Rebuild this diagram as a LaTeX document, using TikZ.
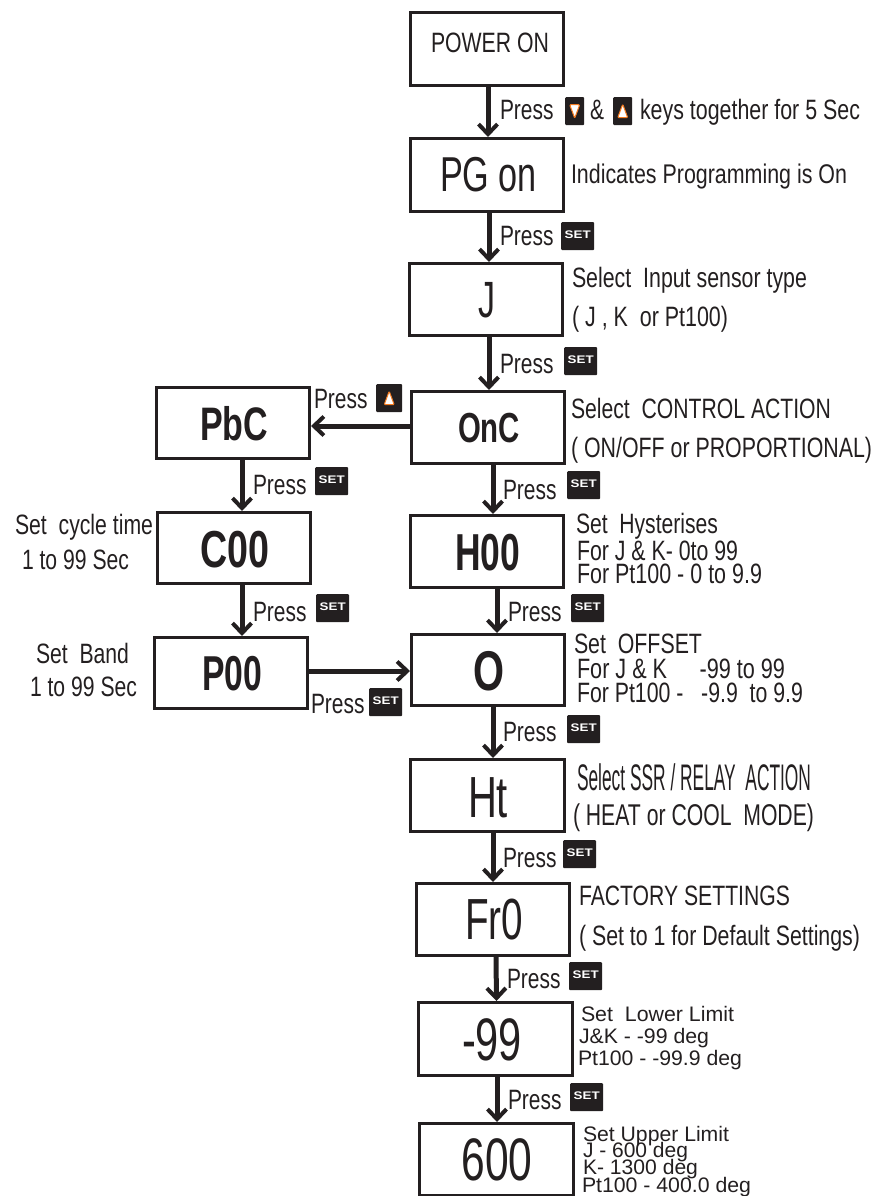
\documentclass[tikz,border=0pt]{standalone}
\usepackage{fontspec}
\usepackage{graphicx}
\setmainfont{Liberation Sans}
\usetikzlibrary{arrows.meta}
\definecolor{ink}{HTML}{231F20}
\definecolor{keyorange}{HTML}{F47B20}
\newcommand\W[3]{\resizebox{#2pt}{\height}{\fontsize{#1pt}{#1pt}\selectfont #3}}
\newcommand\B[3]{\resizebox{#2pt}{\height}{\fontsize{#1pt}{#1pt}\selectfont\bfseries #3}}
\tikzset{
  x=1pt,y=-1pt,
  boxnode/.style={draw=ink,line width=3pt,inner sep=0pt,text=ink,fill=white},
  txt/.style={anchor=base west,inner sep=0pt,outer sep=0pt,text=ink},
  conn/.style={draw=ink,line width=5pt,-{Straight Barb[length=10pt,width=19pt,line width=4pt]}},
  keynode/.style={anchor=north west,fill=ink,rounded corners=1pt,inner sep=0pt,minimum height=28pt,text=white},
  setkey/.style={keynode,minimum width=33pt},
  upkey/.style={keynode,path picture={
    \draw[fill=white,draw=keyorange,line width=1pt,line join=round]
      ([shift={(-5pt,-6.5pt)}]path picture bounding box.center) --
      ([shift={(5pt,-6.5pt)}]path picture bounding box.center) --
      ([shift={(0pt,7pt)}]path picture bounding box.center) -- cycle;}},
  downkey/.style={keynode,path picture={
    \draw[fill=white,draw=keyorange,line width=1pt,line join=round]
      ([shift={(-5pt,6.5pt)}]path picture bounding box.center) --
      ([shift={(5pt,6.5pt)}]path picture bounding box.center) --
      ([shift={(0pt,-7pt)}]path picture bounding box.center) -- cycle;}},
}
% name, left, top, right, bottom, text centre x, baseline y, text
\newcommand\bx[8]{%
  \pgfmathsetmacro\bxw{#4-#2-3}\pgfmathsetmacro\bxh{#5-#3-3}%
  \pgfmathsetmacro\bxcx{(#2+#4)/2}\pgfmathsetmacro\bxcy{(#3+#5)/2}%
  \pgfmathsetmacro\bxdx{#6-\bxcx}\pgfmathsetmacro\bxdy{\bxcy-#7}%
  \node[boxnode,minimum width=\bxw pt,minimum height=\bxh pt] (#1) at (\bxcx,\bxcy)
    {\raisebox{\bxdy pt}[0pt][0pt]{\makebox[0pt][c]{\hspace{2\dimexpr\bxdx pt\relax}#8}}};}
\newcommand\lab[4]{\node[txt] (#1) at (#2,#3) {#4};}
\newcommand\press[3]{\node[txt] (#1) at (#2,#3) {\W{28}{53.5}{Press}};}
\newcommand\setk[3]{\node[setkey] (#1) at (#2,#3) {\raisebox{2.5pt}{\resizebox{26pt}{\height}{\fontsize{11pt}{11pt}\selectfont\bfseries SET}}};}
\begin{document}
\begin{tikzpicture}
\useasboundingbox (0,0) rectangle (874,1196);
% boxes
\bx{power}{409}{11}{565}{87}{490}{53}{\W{28}{118}{POWER ON}}
\bx{pg}{409}{137}{565}{213}{488.5}{192}{\W{49}{97}{PG on}}
\bx{j}{408}{262}{564}{337}{487}{317}{\W{51}{17}{J}}
\bx{onc}{410}{390}{566}{465}{489}{442}{\B{42}{62}{OnC}}
\bx{pbc}{155}{386}{311}{460}{234}{440}{\B{47}{68}{PbC}}
\bx{coo}{156}{511}{312}{585}{234.5}{567}{\B{52}{69}{C00}}
\bx{hoo}{409}{514}{565}{589}{487.5}{570}{\B{52}{65}{H00}}
\bx{poo}{153}{636}{309}{710}{232}{690}{\B{49}{60}{P00}}
\bx{o}{410}{633}{566}{707}{488.5}{690}{\B{56}{31}{O}}
\bx{ht}{409}{758}{566}{833}{488}{817}{\W{58}{40}{Ht}}
\bx{fr}{415}{882}{571}{957}{494}{939}{\W{58}{58}{Fr0}}
\bx{neg}{417}{1001}{574}{1077}{492}{1060}{\W{60}{60}{-99}}
\bx{six}{418}{1122}{575}{1197}{497}{1180}{\W{60}{71}{600}}
% connectors
\draw[conn] ([xshift=1pt]power.south) -- ([xshift=1pt]pg.north);
\draw[conn] ([xshift=2pt]pg.south) -- ([xshift=3pt]j.north);
\draw[conn] ([xshift=3pt]j.south) -- ([xshift=1pt]onc.north);
\draw[conn] ([xshift=5pt]onc.south) -- ([xshift=6pt]hoo.north);
\draw[conn] ([xshift=10pt]hoo.south) -- ([xshift=9pt]o.north);
\draw[conn] ([xshift=5pt]o.south) -- ([xshift=5.5pt]ht.north);
\draw[conn] ([xshift=5.5pt]ht.south) -- ([xshift=0pt]fr.north);
\draw[conn] ([xshift=3pt]fr.south) -- ([xshift=1pt]neg.north);
\draw[conn] ([xshift=1.5pt]neg.south) -- ([xshift=0.5pt]six.north);
\draw[conn] ([xshift=9pt]pbc.south) -- ([xshift=8pt]coo.north);
\draw[conn] ([xshift=8pt]coo.south) -- ([xshift=11pt]poo.north);
\draw[conn] ([yshift=1.5pt]onc.west) -- ([yshift=-3pt]pbc.east);
\draw[conn] ([yshift=2pt]poo.east) -- ([yshift=-1pt]o.west);
% top labels
\press{p1}{500}{120}
\node[downkey,minimum width=19pt] (kd) at (565,97) {};
\lab{amp}{590}{120}{\W{28}{14}{\&}}
\node[upkey,minimum width=19pt] (ku) at (613,97) {};
\lab{keys}{640}{120}{\W{28}{220}{keys together for 5 Sec}}
\lab{ind}{571}{183}{\W{27}{276}{Indicates Programming is On}}
\press{p2}{500}{245}\setk{k2}{561}{222}
\lab{sel1}{572}{287}{\W{28}{235}{Select\ \ Input sensor type}}
\lab{sel2}{572}{326}{\W{28}{156}{( J , K\ \ or Pt100)}}
\press{p3}{500}{373}\setk{k3}{564}{347}
% control action
\lab{ca1}{571}{418}{\W{28}{260}{Select\ \ CONTROL ACTION}}
\lab{ca2}{571}{457}{\W{28}{301}{( ON/OFF or PROPORTIONAL)}}
\press{pa}{314}{408}
\node[upkey,minimum width=26pt] (kua) at (376,384) {};
\press{p4}{503}{499}\setk{k4}{567}{471}
\press{p5}{253}{494}\setk{k5}{315}{467}
\lab{cy1}{15}{534}{\W{28}{138}{Set\ \ cycle time}}
\lab{cy2}{22}{569}{\W{28}{107}{1 to 99 Sec}}
\lab{hy1}{576}{533}{\W{28}{142}{Set\ \ Hysterises}}
\lab{hy2}{577}{560}{\W{28}{161}{For J \& K- 0to 99}}
\lab{hy3}{577}{583}{\W{28}{185}{For Pt100 - 0 to 9.9}}
\press{p6}{253}{621}\setk{k6}{316}{594}
\press{p7}{508}{621}\setk{k7}{571}{594}
\lab{bd1}{36}{663}{\W{28}{93}{Set\ \ Band}}
\lab{bd2}{30}{696}{\W{28}{107}{1 to 99 Sec}}
\lab{of1}{574}{653}{\W{28}{128}{Set\ \ OFFSET}}
\lab{of2}{577}{678}{\W{28}{208}{For J \& K\hspace{42pt}-99 to 99}}
\lab{of3}{577}{702}{\W{28}{226}{For Pt100 -\ \ \ -9.9\ \ to 9.9}}
\press{p8}{311}{713}\setk{k8}{369}{688}
\press{p9}{503}{741}\setk{k9}{567}{715}
% lower part
\lab{ss1}{577}{790}{\W{37}{234}{Select SSR / RELAY\ \ ACTION}}
\lab{ss2}{573}{825}{\W{30}{241}{( HEAT or COOL\ \ MODE)}}
\press{p10}{503}{867}\setk{k10}{563}{840}
\lab{fa1}{579}{905}{\W{28}{211}{FACTORY SETTINGS}}
\lab{fa2}{579}{945}{\W{28}{281}{( Set to 1 for Default Settings)}}
\press{p11}{507}{988}\setk{k11}{569}{962}
\lab{lo1}{581}{1021}{\W{21}{153}{Set\ \ Lower Limit}}
\lab{lo2}{579}{1043}{\W{21}{130}{J\&K - -99 deg}}
\lab{lo3}{578}{1065}{\W{21}{164}{Pt100 - -99.9 deg}}
\press{p12}{508}{1109}\setk{k12}{570}{1083}
\lab{up1}{583}{1141}{\W{21}{146}{Set Upper Limit}}
\lab{up2}{583}{1157}{\W{21}{105}{J - 600 deg}}
\lab{up3}{583}{1174}{\W{21}{115}{K- 1300 deg}}
\lab{up4}{582}{1192}{\W{21}{169}{Pt100 - 400.0 deg}}
\end{tikzpicture}
\end{document}
